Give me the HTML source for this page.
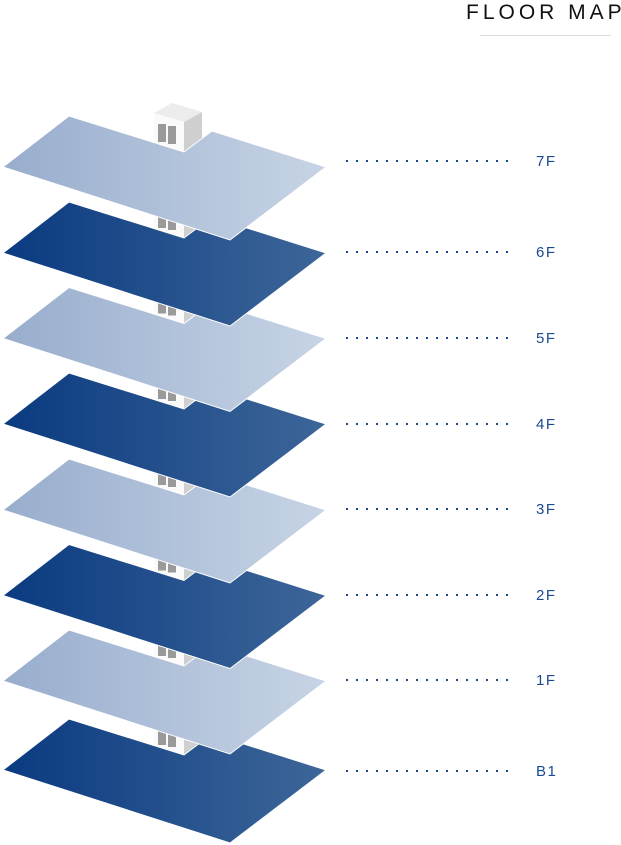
<!DOCTYPE html>
<html><head><meta charset="utf-8"><style>
html,body{margin:0;padding:0;background:#fff;}
svg{display:block;}
</style></head><body>
<svg width="621" height="845" viewBox="0 0 621 845" xmlns="http://www.w3.org/2000/svg">
<defs>
<linearGradient id="lt" x1="0" x2="1" y1="0" y2="0"><stop offset="0" stop-color="#98adcd"/><stop offset="1" stop-color="#c7d4e5"/></linearGradient>
<linearGradient id="dk" x1="0" x2="1" y1="0" y2="0"><stop offset="0" stop-color="#0a3a80"/><stop offset="1" stop-color="#3d6699"/></linearGradient>
<g id="cube">
<polygon points="154,113 172,103 202,112 184,122" fill="#ececec"/>
<polygon points="154,113 184,122 184,152 154,143" fill="#fafafa"/>
<polygon points="184,122 202,112 202,141 184,152" fill="#cfcfcf"/>
<rect x="158" y="124" width="8" height="18" fill="#9a9a9a"/>
<rect x="168" y="126" width="8" height="18" fill="#9a9a9a"/>
</g>
<polygon id="plate" points="3,167 69,116 184,152 212,131 326,167 230,240" stroke="#fff" stroke-width="1"/>
</defs>
<text x="466" y="19" font-family="'Liberation Sans',sans-serif" font-size="21" letter-spacing="4" fill="#111">FLOOR MAP</text>
<rect x="480" y="35" width="131" height="1" fill="#dcdcdc"/>

<g transform="translate(0,603)"><use href="#cube"/><use href="#plate" fill="url(#dk)"/></g>
<g transform="translate(0,514)"><use href="#cube"/><use href="#plate" fill="url(#lt)"/></g>
<g transform="translate(0,428.5)"><use href="#cube"/><use href="#plate" fill="url(#dk)"/></g>
<g transform="translate(0,343)"><use href="#cube"/><use href="#plate" fill="url(#lt)"/></g>
<g transform="translate(0,257)"><use href="#cube"/><use href="#plate" fill="url(#dk)"/></g>
<g transform="translate(0,171.5)"><use href="#cube"/><use href="#plate" fill="url(#lt)"/></g>
<g transform="translate(0,86)"><use href="#cube"/><use href="#plate" fill="url(#dk)"/></g>
<g><use href="#cube"/><use href="#plate" fill="url(#lt)"/></g>

<g stroke="#1a4a90" stroke-width="2" stroke-dasharray="2 8">
<line x1="346" x2="512" y1="161" y2="161"/>
<line x1="346" x2="512" y1="252" y2="252"/>
<line x1="346" x2="512" y1="338" y2="338"/>
<line x1="346" x2="512" y1="424" y2="424"/>
<line x1="346" x2="512" y1="509" y2="509"/>
<line x1="346" x2="512" y1="595" y2="595"/>
<line x1="346" x2="512" y1="680" y2="680"/>
<line x1="346" x2="512" y1="771" y2="771"/>
</g>
<g fill="#1a4a90" font-family="'Liberation Sans',sans-serif" font-size="15" letter-spacing="1.5">
<text x="536" y="166">7F</text>
<text x="536" y="257">6F</text>
<text x="536" y="343">5F</text>
<text x="536" y="429">4F</text>
<text x="536" y="514">3F</text>
<text x="536" y="600">2F</text>
<text x="536" y="685">1F</text>
<text x="536" y="776">B1</text>
</g>
</svg>
</body></html>
